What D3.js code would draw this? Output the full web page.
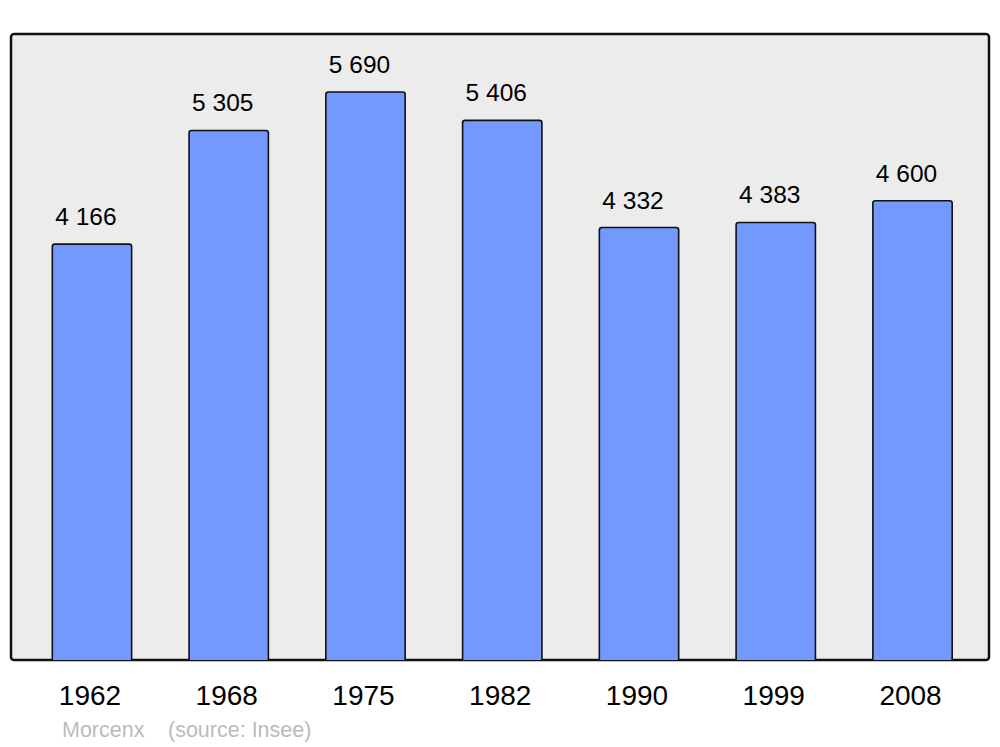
<!DOCTYPE html>
<html><head><meta charset="utf-8">
<script src="https://cdn.jsdelivr.net/npm/d3@7"></script>
<style>body{margin:0;background:#fff}svg{display:block}text{font-family:"Liberation Sans",Arial,sans-serif}</style>
</head><body>
<svg id="c" width="1000" height="747"></svg>
<script>
const years = ["1962","1968","1975","1982","1990","1999","2008"];
const population = [4166, 5305, 5690, 5406, 4332, 4383, 4600];
const valueLabels = ["4 166","5 305","5 690","5 406","4 332","4 383","4 600"];
const commune = "Morcenx";
const source = "(source: Insee)";

const svg = d3.select("#c");
const panel = {x0: 11, x1: 989, y0: 34, y1: 660};

svg.append("rect").attr("x", panel.x0).attr("y", panel.y0)
  .attr("width", panel.x1 - panel.x0).attr("height", panel.y1 - panel.y0)
  .attr("rx", 3).attr("fill", "#ececec").attr("stroke", "#111").attr("stroke-width", 2.5);

const x = d3.scaleBand().domain(years).range([23.6, 980.9]).paddingInner(0.42).paddingOuter(0.21);
const y = d3.scaleLinear().domain([0, 6271]).range([panel.y1, panel.y0]);

const g = svg.append("g");
g.selectAll("path.bar").data(years).join("path").attr("class", "bar")
  .attr("d", (d, i) => {
    const x0 = x(d), w = x.bandwidth(), top = y(population[i]), b = y(0), r = 2.5;
    return `M${x0},${b} L${x0},${top + r} Q${x0},${top} ${x0 + r},${top} L${x0 + w - r},${top} Q${x0 + w},${top} ${x0 + w},${top + r} L${x0 + w},${b}`;
  })
  .attr("fill", "#7399ff").attr("stroke", "#111").attr("stroke-width", 1.6);

g.selectAll("text.val").data(years).join("text").attr("class", "val")
  .attr("x", d => x(d) + x.bandwidth() / 2 - 6)
  .attr("y", (d, i) => y(population[i]) - 19)
  .attr("text-anchor", "middle").attr("font-size", 24.5).attr("fill", "#000")
  .text((d, i) => valueLabels[i]);

svg.append("g").attr("transform", `translate(-2,${panel.y1})`)
  .call(d3.axisBottom(x).tickSize(0).tickPadding(0))
  .call(a => a.select(".domain").remove())
  .call(a => a.selectAll("text").attr("font-size", 28).attr("font-family", "Liberation Sans, Arial, sans-serif")
    .attr("fill", "#000").attr("dy", null).attr("y", 45));

svg.append("text").attr("x", 62).attr("y", 737).attr("font-size", 21.5).attr("fill", "#bbb").text(commune);
svg.append("text").attr("x", 168).attr("y", 737).attr("font-size", 21.5).attr("fill", "#bbb").text(source);
</script>
</body></html>
